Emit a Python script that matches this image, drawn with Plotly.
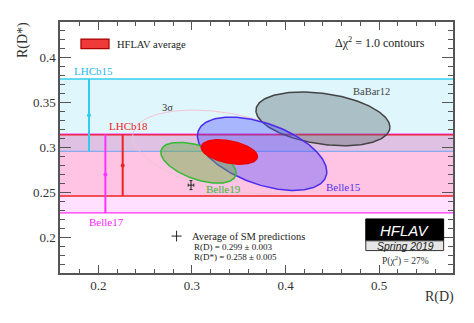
import numpy as np
import plotly.graph_objects as go

# ---------------- data ----------------
# 1D R(D*) measurements (value, +err, -err) drawn as bands, with display x position
band_names = ["Belle17", "LHCb18", "LHCb15"]
band_val = [0.270, 0.280, 0.336]
band_ep = [0.0448, 0.0341, 0.0404]
band_em = [0.0430, 0.0341, 0.0404]
band_xpos = [0.2075, 0.226, 0.190]

# 2D measurements: R(D), sigma, R(D*), sigma, correlation
ell_names = ["BaBar12", "Belle15", "Belle19", "HFLAV average"]
ell_rd = [0.440, 0.375, 0.307, 0.340]
ell_srd = [0.0716, 0.0691, 0.0403, 0.0300]
ell_rds = [0.332, 0.293, 0.283, 0.295]
ell_srds = [0.0300, 0.0409, 0.0228, 0.0136]
ell_rho = [-0.31, -0.49, -0.51, -0.38]

# SM prediction
sm_rd, sm_rd_err = 0.299, 0.003
sm_rds, sm_rds_err = 0.258, 0.005

three_sigma_dchi2 = 11.83

# ---------------- styling ----------------
SERIF = "Liberation Serif"
SANS = "Liberation Sans"
band_fill = {"Belle17": "rgba(255,0,255,0.12)", "LHCb18": "rgba(255,0,40,0.13)",
             "LHCb15": "rgba(0,185,230,0.13)"}
band_line = {"Belle17": "#ff33ff", "LHCb18": "#ee2222", "LHCb15": "#33ccee"}
band_lowline = {"Belle17": "#ff33ff", "LHCb18": "#ee2222", "LHCb15": "#88aaee"}
ell_fill = {"BaBar12": "rgba(90,105,110,0.38)", "Belle15": "rgba(80,80,255,0.38)",
            "Belle19": "rgba(100,175,60,0.45)", "HFLAV average": "rgba(255,0,0,1)"}
ell_line = {"BaBar12": "#444444", "Belle15": "#4a2cf0", "Belle19": "#33bb33",
            "HFLAV average": "#ee0000"}


def ellipse(mx, sx, my, sy, rho, k=1.0, n=240):
    t = np.linspace(0, 2 * np.pi, n)
    x = mx + k * sx * np.cos(t)
    y = my + k * sy * (rho * np.cos(t) + np.sqrt(1 - rho ** 2) * np.sin(t))
    return x, y


fig = go.Figure()
shapes = []

# bands
for name, v, ep, em in zip(band_names, band_val, band_ep, band_em):
    shapes.append(dict(type="rect", xref="x domain", yref="y", x0=0, x1=1,
                       y0=v - em, y1=v + ep, fillcolor=band_fill[name],
                       line=dict(width=0), layer="below"))
for name, v, ep, em in zip(band_names, band_val, band_ep, band_em):
    shapes.append(dict(type="line", xref="x domain", yref="y", x0=0, x1=1,
                       y0=v + ep, y1=v + ep, line=dict(color=band_line[name], width=1.3),
                       layer="below"))
    shapes.append(dict(type="line", xref="x domain", yref="y", x0=0, x1=1,
                       y0=v - em, y1=v - em, line=dict(color=band_lowline[name], width=1.3),
                       layer="below"))

# error bars of 1D measurements
for name, v, ep, em, xp in zip(band_names, band_val, band_ep, band_em, band_xpos):
    fig.add_trace(go.Scatter(
        x=[xp], y=[v], mode="markers",
        marker=dict(color=band_line[name], size=4),
        error_y=dict(type="data", symmetric=False, array=[ep], arrayminus=[em],
                     color=band_line[name], thickness=2, width=0),
        hoverinfo="skip", showlegend=False))

# 3 sigma contour of average
ia = ell_names.index("HFLAV average")
x3, y3 = ellipse(ell_rd[ia], ell_srd[ia], ell_rds[ia], ell_srds[ia], ell_rho[ia],
                 k=np.sqrt(three_sigma_dchi2))
fig.add_trace(go.Scatter(x=x3, y=y3, mode="lines", line=dict(color="#f2c4d4", width=1),
                         hoverinfo="skip", showlegend=False))

# ellipses
for name, mx, sx, my, sy, r in zip(ell_names, ell_rd, ell_srd, ell_rds, ell_srds, ell_rho):
    ex, ey = ellipse(mx, sx, my, sy, r)
    fig.add_trace(go.Scatter(x=ex, y=ey, mode="lines", fill="toself",
                             fillcolor=ell_fill[name],
                             line=dict(color=ell_line[name], width=1.5),
                             hoverinfo="skip", showlegend=False))

# SM prediction
fig.add_trace(go.Scatter(x=[sm_rd], y=[sm_rds], mode="markers",
                         marker=dict(size=1, color="#222"),
                         error_x=dict(type="data", array=[sm_rd_err], color="#222", thickness=1, width=1.5),
                         error_y=dict(type="data", array=[sm_rds_err], color="#222", thickness=1, width=1.5),
                         hoverinfo="skip", showlegend=False))

# legend symbol (HFLAV average)
shapes.append(dict(type="rect", xref="x", yref="y", x0=0.1814, x1=0.2114, y0=0.4102, y1=0.4210,
                   fillcolor="#f03a3a", line=dict(color="#aa0000", width=1.2)))
# SM legend cross
shapes.append(dict(type="line", xref="x", yref="y", x0=0.2782, x1=0.2890, y0=0.2012, y1=0.2012,
                   line=dict(color="#222", width=1)))
shapes.append(dict(type="line", xref="x", yref="y", x0=0.2836, x1=0.2836, y0=0.1952, y1=0.2072,
                   line=dict(color="#222", width=1)))
# HFLAV logo
shapes.append(dict(type="rect", xref="x", yref="y", x0=0.4858, x1=0.569, y0=0.1959, y1=0.2203,
                   fillcolor="black", line=dict(color="black", width=1)))
shapes.append(dict(type="rect", xref="x", yref="y", x0=0.4858, x1=0.569, y0=0.1850, y1=0.1959,
                   fillcolor="#e6e6e6", line=dict(color="#333", width=1)))

ann = []


def txt(x, y, s, size, color="#222", xanchor="center", font=SERIF, **kw):
    ann.append(dict(x=x, y=y, xref="x", yref="y", text=s, showarrow=False,
                    xanchor=xanchor, yanchor="middle",
                    font=dict(family=font, size=size, color=color), **kw))


txt(0.2178, 0.4154, "HFLAV average", 10.5, xanchor="left")
txt(0.501, 0.4166, "Δχ<sup>2</sup> = 1.0 contours", 12)
txt(0.1953, 0.3853, "LHCb15", 11, color="#22b8e8")
txt(0.2327, 0.3240, "LHCb18", 11, color="#ee2222")
txt(0.2092, 0.2171, "Belle17", 11, color="#ff22ff")
txt(0.3332, 0.2533, "Belle19", 11, color="#33bb33")
txt(0.4625, 0.2564, "Belle15", 11, color="#5533ee")
txt(0.4914, 0.3630, "BaBar12", 10.5, color="#444")
txt(0.2744, 0.3450, "3σ", 10.5, color="#333")
txt(0.2979, 0.2012, "Average of SM predictions", 10.5, xanchor="left")
txt(0.3000, 0.1889, "R(D) = 0.299 ± 0.003", 9, xanchor="left")
txt(0.3000, 0.1777, "R(D*) = 0.258 ± 0.005", 9, xanchor="left")
txt(0.5277, 0.2079, "<i>HFLAV</i>", 15, color="white", font=SANS)
txt(0.5277, 0.1903, "<i>Spring 2019</i>", 10.5, color="#222", font=SANS)
txt(0.5277, 0.1745, "P(χ<sup>2</sup>) = 27%", 9.5, color="#333")

W, H = 474, 323
ML, MR, MT, MB = 60, 21, 22, 50
pw, ph = W - ML - MR, H - MT - MB
for s, px, py, ang in [("R(D*)", 23, 40, -90), ("R(D)", 439, 297, 0)]:
    ann.append(dict(x=(px - ML) / pw, y=1 - (py - MT) / ph, xref="paper", yref="paper",
                    text=s, showarrow=False, textangle=ang, xanchor="center", yanchor="middle",
                    font=dict(family=SERIF, size=14, color="#333")))

axis_common = dict(showgrid=False, zeroline=False, showline=True, linecolor="#555",
                   linewidth=1.5, mirror="allticks", ticks="inside",
                   tickcolor="#555", tickwidth=1,
                   tickfont=dict(family=SERIF, size=13, color="#333"))

fig.update_layout(
    width=W, height=H,
    margin=dict(l=ML, r=MR, t=MT, b=MB),
    paper_bgcolor="white", plot_bgcolor="white",
    xaxis=dict(range=[0.159, 0.579], dtick=0.1, tick0=0.2, ticklen=8,
               minor=dict(dtick=0.02, ticklen=4, ticks="inside", tickcolor="#555"),
               **axis_common),
    yaxis=dict(range=[0.16, 0.44], dtick=0.05, tick0=0.2, ticklen=11,
               minor=dict(dtick=0.01, ticklen=5, ticks="inside", tickcolor="#555"),
               **axis_common),
    shapes=shapes, annotations=ann, showlegend=False,
)

fig.write_html("out.html")
